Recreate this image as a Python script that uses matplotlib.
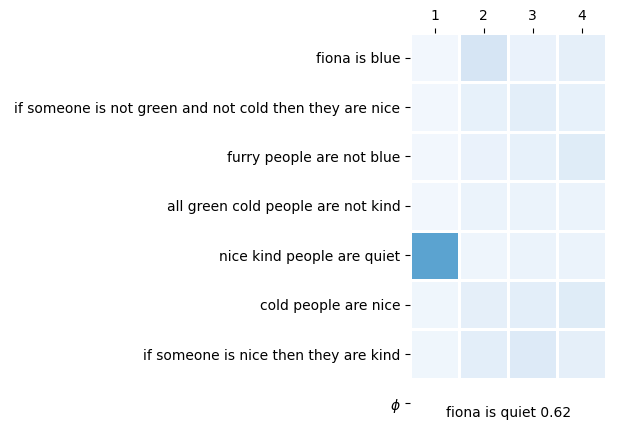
import matplotlib.pyplot as plt
import numpy as np

rows = ["fiona is blue",
        "if someone is not green and not cold then they are nice",
        "furry people are not blue",
        "all green cold people are not kind",
        "nice kind people are quiet",
        "cold people are nice",
        "if someone is nice then they are kind",
        r"$\phi$"]
cols = ["1", "2", "3", "4"]
vals = [[0.03, 0.17, 0.07, 0.09],
        [0.03, 0.08, 0.10, 0.08],
        [0.03, 0.07, 0.08, 0.12],
        [0.03, 0.06, 0.06, 0.06],
        [0.55, 0.05, 0.06, 0.06],
        [0.04, 0.09, 0.10, 0.12],
        [0.04, 0.10, 0.13, 0.09],
        [np.nan, np.nan, np.nan, np.nan]]
label = "fiona is quiet 0.62"

data = np.ma.masked_invalid(np.array(vals))
fig = plt.figure(figsize=(6.17, 4.32), dpi=100)
ax = fig.add_axes([0.6645, 0.009, 0.318, 0.9146])
ax.pcolormesh(data, cmap="Blues", vmin=0, vmax=1, edgecolor="white", linewidth=1)
ax.set_xlim(0, 4)
ax.set_ylim(8, 0)
ax.set_xticks(np.arange(4) + 0.5, cols)
ax.set_yticks(np.arange(8) + 0.5, rows)
ax.xaxis.tick_top()
for s in ax.spines.values():
    s.set_visible(False)
ax.text(2, 7.7, label, ha="center", va="center", fontsize=10)
fig.savefig("out.png")
